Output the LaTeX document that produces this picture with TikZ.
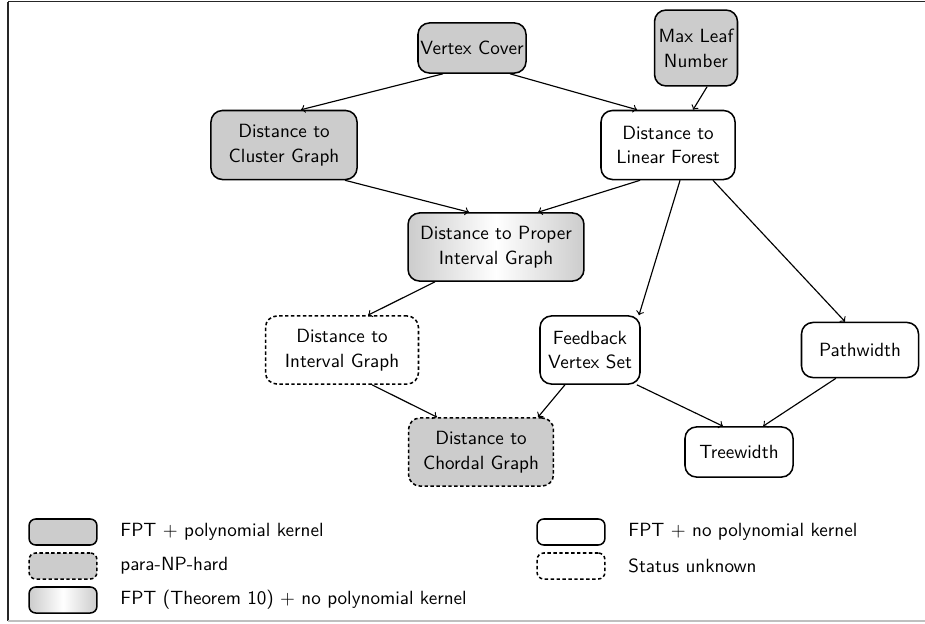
\documentclass[tikz,border=0pt]{standalone}
\usetikzlibrary{arrows}
\begin{document}
\begin{tikzpicture}[x=0.523pt,y=-0.523pt,
  every node/.style={font=\fontsize{10}{13}\selectfont\sffamily},
  box/.style={draw, thick, rounded corners=6pt, align=center, inner sep=0pt},
  fpt/.style={box, fill=black!20},
  fptnk/.style={box, fill=white},
  unk/.style={box, fill=white, dash pattern=on 1.8pt off 1.3pt},
  pnp/.style={box, fill=black!20, dash pattern=on 1.8pt off 1.3pt},
  grad/.style={box, left color=black!20, right color=black!20, middle color=white},
  edge/.style={->, semithick},
  lbox/.style={draw, thick, rounded corners=3.5pt, minimum width=35.5pt, minimum height=13.6pt, inner sep=0pt},
  ltext/.style={anchor=west, inner sep=0pt}
]
\useasboundingbox (0,0) rectangle (925,623);
% frame
\draw[black!85, line width=0.6pt] (8,1.5) coordinate (ftl) -- (925,1.5) coordinate (ftr);
\draw[black!85, line width=0.6pt] (ftl) -- (8,621) coordinate (fbl);
\draw[black!25, line width=0.6pt] (fbl) -- (925,621) coordinate (fbr);

% nodes
\node[fpt, minimum width=56.5pt, minimum height=26.2pt] (vc) at (472,48) {Vertex Cover};
\node[fpt, minimum width=43.4pt, minimum height=39.7pt] (mln) at (696,48) {Max Leaf\\Number};
\node[fpt, minimum width=76.4pt, minimum height=36.1pt] (dcg) at (284,145) {Distance to\\Cluster Graph};
\node[fptnk, minimum width=70.1pt, minimum height=36.1pt] (dlf) at (668,145) {Distance to\\Linear Forest};
\node[grad, minimum width=92pt, minimum height=35.6pt] (dpig) at (496,247) {Distance to Proper\\Interval Graph};
\node[unk, minimum width=80pt, minimum height=35.6pt] (dig) at (342,350) {Distance to\\Interval Graph};
\node[fptnk, minimum width=52.3pt, minimum height=35.6pt] (fvs) at (590,350) {Feedback\\Vertex Set};
\node[fptnk, minimum width=61.2pt, minimum height=28.8pt] (pw) at (860,350) {Pathwidth};
\node[pnp, minimum width=75.8pt, minimum height=35.6pt] (dch) at (481,452) {Distance to\\Chordal Graph};
\node[fptnk, minimum width=56.5pt, minimum height=26.2pt] (tw) at (739,452) {Treewidth};

% edges
\draw[edge] ([xshift=-15.2pt]vc.south) -- ([xshift=8.9pt]dcg.north);
\draw[edge] ([xshift=19.9pt]vc.south) -- ([xshift=-16.2pt]dlf.north);
\draw[edge] ([xshift=5.8pt]mln.south) -- ([xshift=13.1pt]dlf.north);
\draw[edge] ([xshift=31.9pt]dcg.south) -- ([xshift=-14.1pt]dpig.north);
\draw[edge] ([xshift=-14.6pt]dlf.south) -- ([xshift=22pt]dpig.north);
\draw[edge] ([xshift=6.3pt]dlf.south) -- ([xshift=25.6pt]fvs.north);
\draw[edge] ([xshift=23.5pt]dlf.south) -- ([xshift=-7.8pt]pw.north);
\draw[edge] ([xshift=-31.9pt]dpig.south) -- ([xshift=13.6pt]dig.north);
\draw[edge] ([xshift=15.7pt]dig.south) -- ([xshift=-23pt]dch.north);
\draw[edge] ([xshift=-13.1pt]fvs.south) -- ([xshift=29.8pt]dch.north);
\draw[edge] ([xshift=24.5pt]fvs.south) -- ([xshift=-8.4pt]tw.north);
\draw[edge] ([xshift=-12.6pt]pw.south) -- ([xshift=12.6pt]tw.north);

% legend
\node[lbox, fill=black!20] (l1) at (63,532) {};
\node[ltext] (t1) at (120,532) {FPT $+$ polynomial kernel};
\node[lbox, fill=black!20, dash pattern=on 1.8pt off 1.3pt] (l2) at (63,566) {};
\node[ltext] (t2) at (120,566) {para-NP-hard};
\node[lbox, left color=black!20, right color=black!20, middle color=white] (l3) at (63,600) {};
\node[ltext] (t3) at (120,600) {FPT (Theorem 10) $+$ no polynomial kernel};
\node[lbox, fill=white] (l4) at (571,532) {};
\node[ltext] (t4) at (628,532) {FPT $+$ no polynomial kernel};
\node[lbox, fill=white, dash pattern=on 1.8pt off 1.3pt] (l5) at (571,566) {};
\node[ltext] (t5) at (628,566) {Status unknown};
\end{tikzpicture}
\end{document}
